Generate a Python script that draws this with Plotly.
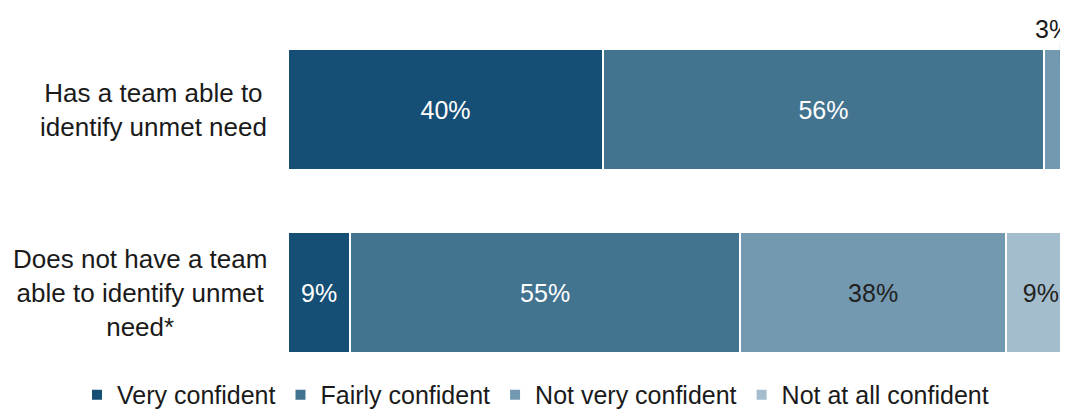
"""Confidence in identifying unmet need - stacked horizontal bar."""

import plotly.graph_objects as go

CATEGORIES = [
    "Has a team able to<br>identify unmet need",
    "Does not have a team<br>able to identify unmet<br>need*",
]
SERIES = ["Very confident", "Fairly confident", "Not very confident", "Not at all confident"]

# bar widths as drawn (per cent) and the labels printed on them
VALUES = {
    "Very confident": [40, 7.9],
    "Fairly confident": [56, 49.5],
    "Not very confident": [3, 33.8],
    "Not at all confident": [1, 8.8],
}
LABELS = {
    "Very confident": ["40%", "9%"],
    "Fairly confident": ["56%", "55%"],
    "Not very confident": ["", "38%"],
    "Not at all confident": ["", "9%"],
}
CALLOUT_TEXT = "3%"

COLORS = ["#164f75", "#42738f", "#7399b0", "#a4bdcc"]
TEXT_COLORS = ["#ffffff", "#ffffff", "#222222", "#222222"]
FONT = "Liberation Sans, Arial, sans-serif"

fig = go.Figure()
for i, name in enumerate(SERIES):
    fig.add_trace(
        go.Bar(
            y=CATEGORIES,
            x=VALUES[name],
            name=name,
            orientation="h",
            text=LABELS[name],
            textposition="inside",
            insidetextanchor="middle",
            textangle=0,
            textfont={"size": 25, "color": TEXT_COLORS[i], "family": FONT},
            marker={"color": COLORS[i], "line": {"color": "#ffffff", "width": 2}},
            hoverinfo="skip",
        )
    )

for cat in CATEGORIES:
    fig.add_annotation(
        x=-0.025, xref="paper", y=cat, yref="y",
        text=cat, showarrow=False, xanchor="right", align="center",
        font={"size": 26, "color": "#1a1a1a", "family": FONT},
    )

# callout for the small top segment: leader line plus label
callout_x = VALUES["Very confident"][0] + VALUES["Fairly confident"][0] + VALUES["Not very confident"][0] / 2
fig.add_annotation(
    x=callout_x + 0.6, y=CATEGORIES[0], yref="y", yshift=48,
    text="", showarrow=True, arrowhead=0, arrowwidth=1.2,
    arrowcolor="#1c3550", ax=0, ay=-20, standoff=0,
)
fig.add_annotation(
    x=callout_x + 0.6, y=CATEGORIES[0], yref="y", yshift=81, xshift=-8,
    text=CALLOUT_TEXT, showarrow=False,
    font={"size": 25, "color": "#1a1a1a", "family": FONT},
)

# the page adds an 8px body margin, so the figure is 8px smaller than the window
fig.update_layout(
    width=1060,
    height=402,
    barmode="stack",
    bargap=0.344,
    paper_bgcolor="#ffffff",
    plot_bgcolor="#ffffff",
    margin={"l": 280, "r": 0, "t": 10, "b": 26, "autoexpand": False},
    showlegend=True,
    legend={
        "orientation": "h",
        "x": -0.2705,
        "xanchor": "left",
        "y": -0.030,
        "yanchor": "middle",
        "font": {"size": 25, "color": "#1a1a1a", "family": FONT},
        "traceorder": "normal",
    },
    font={"family": FONT},
)
fig.update_xaxes(range=[0, 99.05], visible=False)
fig.update_yaxes(range=[1.5, -0.5], showticklabels=False, showgrid=False, zeroline=False)

fig.write_html("out.html")
